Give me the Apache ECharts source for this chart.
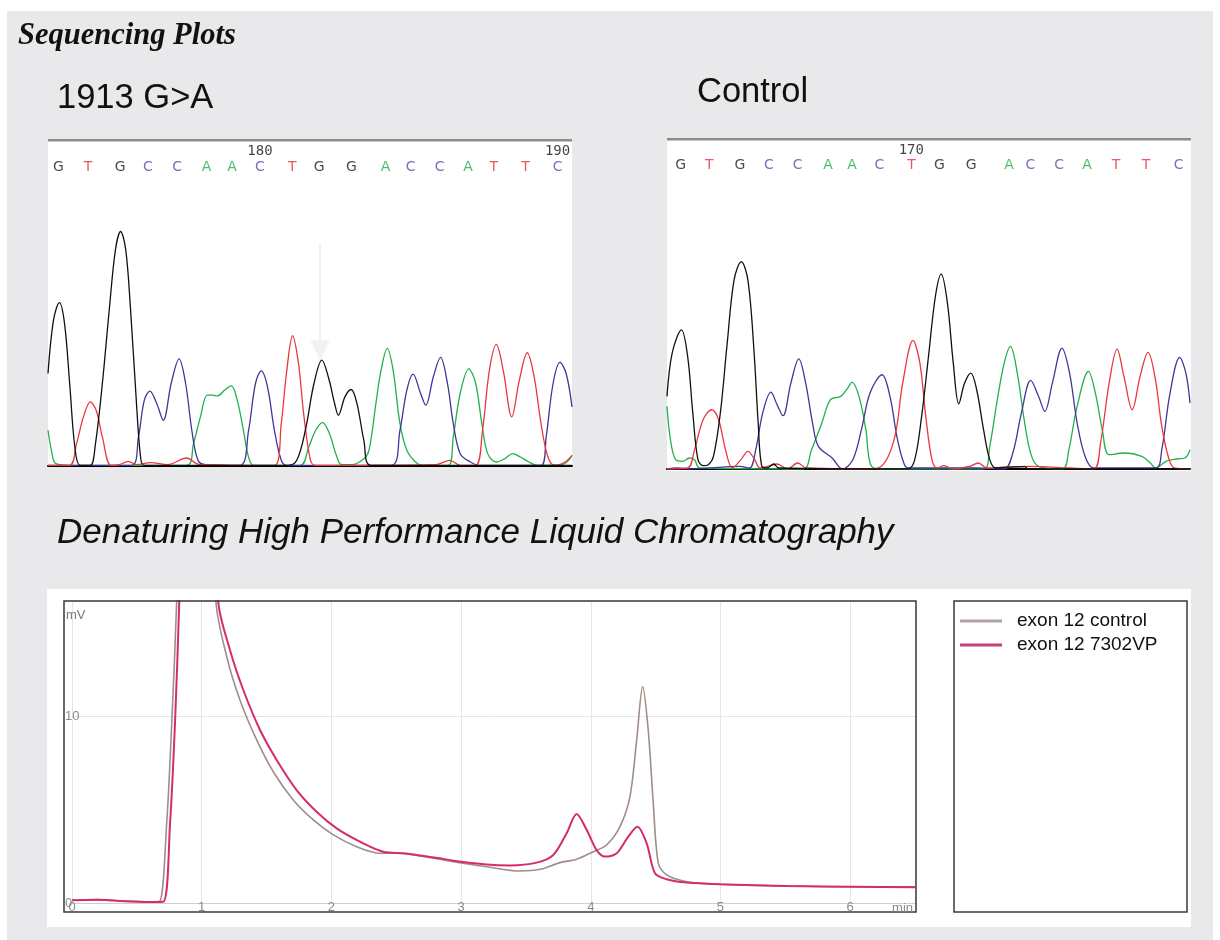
<!DOCTYPE html>
<html>
<head>
<meta charset="utf-8">
<script src="https://cdn.jsdelivr.net/npm/echarts@6/dist/echarts.min.js"></script>
<style>
html,body{margin:0;padding:0;background:#fff;}
#chart{width:1220px;height:940px;}
</style>
</head>
<body>
<div id="chart"></div>
<script>
// ---------------- DATA ----------------
// Sequencing trace, mutant (1913 G>A): [scan, signal]
const leftG = [[22,27.7],[38,43.7],[55,48.9],[70,42.7],[85,24.7],[100,5.7],[115,0.2],[145,0.2],[160,6.7],[180,24.7],[200,46.7],[218,64.7],[233,70.2],[248,64.7],[262,46.7],[278,20.7],[290,3.7],[300,0.2],[340,0.2],[720,0.2],[745,1.7],[770,10.7],[795,24.7],[818,31.7],[838,26.2],[855,18.7],[866,15.2],[885,20.7],[903,22.9],[920,18.7],[940,7.7],[960,0.2],[1545,0.2]];
const leftT = [[22,0.2],[85,0.2],[105,6.7],[125,14.7],[145,19.2],[162,16.7],[180,8.7],[205,0.2],[230,0.4],[255,1.4],[280,0.4],[320,1.0],[370,0.4],[425,2.4],[460,0.5],[680,0.2],[700,12.7],[715,27.7],[733,39.0],[750,30.7],[765,15.7],[785,1.7],[800,0.2],[1150,0.4],[1190,1.7],[1220,0.2],[1265,0.2],[1285,10.7],[1305,28.7],[1325,36.4],[1345,28.7],[1370,14.7],[1392,25.7],[1415,33.9],[1435,26.7],[1455,12.7],[1475,2.7],[1495,0.2],[1525,1.2],[1545,3.2]];
const leftC = [[22,0.2],[265,0.2],[285,8.7],[302,19.7],[318,22.4],[338,18.7],[357,13.7],[380,24.7],[403,32.1],[422,24.7],[440,10.7],[458,1.7],[480,0.4],[580,0.2],[605,10.7],[625,24.7],[642,28.5],[660,23.7],[680,10.7],[700,1.7],[715,0.2],[1020,0.2],[1045,10.7],[1065,22.7],[1083,27.5],[1105,21.7],[1120,18.2],[1142,26.7],[1163,32.5],[1183,24.7],[1200,12.7],[1220,3.7],[1250,1.2],[1275,0.2],[1455,0.2],[1470,8.7],[1490,24.7],[1510,31.0],[1528,27.7],[1545,17.7]];
const leftA = [[22,10.7],[32,4.7],[45,0.7],[90,0.2],[425,0.2],[445,6.7],[465,14.7],[485,21.2],[500,21.2],[515,21.0],[535,22.7],[555,24.0],[572,19.7],[590,10.7],[605,2.7],[620,0.2],[755,0.2],[780,5.7],[800,10.7],[820,13.0],[840,9.7],[860,3.2],[875,0.4],[905,0.4],[940,2.2],[955,4.7],[975,18.7],[990,28.7],[1008,35.2],[1025,28.7],[1045,12.7],[1065,4.7],[1090,1.2],[1110,0.2],[1185,0.2],[1200,8.7],[1220,21.7],[1245,29.1],[1265,24.7],[1283,12.7],[1300,3.7],[1325,1.2],[1350,2.2],[1372,3.7],[1395,2.7],[1420,1.2],[1445,0.2],[1515,0.4],[1535,1.7],[1545,3.2]];
const leftBases = ['G','T','G','C','C','A','A','C','T','G','G','A','C','C','A','T','T','C'];
const leftBasePos = [52,138,232,312,397,483,557,638,732,810,904,1003,1076,1160,1243,1318,1410,1503];
const leftRulerLabels = ['180','190'];
const leftRulerPos = [638,1503];
const leftArrow = [[813,66.7],[813,34.7]];

// Sequencing trace, control
const rightG = [[20,21.8],[35,34.8],[62,41.8],[80,33.8],[95,16.8],[110,2.8],[125,1.0],[140,1.3],[155,3.8],[175,16.8],[195,37.8],[215,56.8],[236,62.3],[255,56.8],[272,36.8],[285,13.8],[295,1.0],[310,0.3],[330,1.5],[345,0.3],[720,0],[740,2.8],[760,15.8],[780,33.8],[800,51.8],[817,58.5],[835,49.8],[852,31.8],[868,19.6],[885,25.8],[903,28.8],[920,23.8],[940,11.8],[958,2.8],[975,0.3],[1000,0.5],[1060,0.7],[1070,0],[1540,0]];
const rightT = [[20,0],[80,0.3],[100,5.8],[125,14.8],[150,17.8],[170,14.8],[190,5.8],[210,0.3],[235,2.8],[255,5.3],[275,2.8],[290,0.3],[320,1.0],[340,1.5],[370,0],[400,1.8],[425,0.3],[600,0],[640,0.6],[680,8.8],[705,25.8],[735,38.6],[755,31.8],[772,15.8],[790,2.8],[805,0.3],[825,1.0],[850,0],[900,0.8],[925,1.8],[950,0.3],[1070,0.8],[1190,0.3],[1260,0],[1280,7.8],[1305,25.8],[1328,36.0],[1348,27.8],[1372,17.8],[1395,27.8],[1418,35.0],[1438,27.8],[1458,12.8],[1478,3.3],[1495,0.3],[1540,0]];
const rightC = [[20,0],[50,0.3],[90,0],[230,0.8],[260,0.3],[278,5.8],[298,16.8],[322,23.1],[340,19.3],[357,16.0],[380,25.8],[403,33.1],[423,25.8],[443,13.8],[460,6.8],[500,3.3],[530,0],[560,2.8],[585,11.8],[610,22.8],[645,28.3],[668,21.8],[688,9.8],[705,2.8],[720,0.3],[860,0.3],[920,0.3],[1000,0],[1025,4.8],[1050,16.8],[1077,26.6],[1100,21.8],[1118,17.3],[1140,25.8],[1168,36.3],[1190,28.8],[1212,13.8],[1235,3.8],[1260,0.3],[1440,0.3],[1458,5.8],[1482,22.8],[1510,33.5],[1528,28.8],[1540,19.8]];
const rightA = [[20,18.8],[30,8.8],[45,2.8],[65,2.3],[85,3.3],[100,2.8],[115,0.3],[415,0],[440,5.8],[470,13.8],[495,20.8],[525,21.8],[545,24.3],[558,26.1],[578,21.8],[598,11.8],[612,1.3],[640,0],[940,0],[958,6.8],[980,20.8],[1000,31.8],[1018,36.8],[1038,28.8],[1058,14.8],[1078,4.3],[1100,0.8],[1170,0],[1188,5.8],[1212,18.8],[1245,29.3],[1265,22.8],[1285,11.8],[1305,4.3],[1350,4.8],[1400,3.8],[1425,1.8],[1440,0.3],[1470,2.3],[1500,3.0],[1525,3.3],[1540,5.8]];
const rightBases = ['G','T','G','C','C','A','A','C','T','G','G','A','C','C','A','T','T','C'];
const rightBasePos = [60,143,232,316,400,488,558,637,731,812,904,1014,1076,1160,1241,1325,1412,1507];
const rightRulerLabels = ['170'];
const rightRulerPos = [730];

// DHPLC: [time (min), signal (mV)]
const dhplcNames = ['exon 12 control','exon 12 7302VP'];
const exon12Control = [[0,0.15],[0.2,0.18],[0.4,0.1],[0.6,0.06],[0.673,0.07],[0.73,4.26],[0.769,9.61],[0.807,16.1],[0.86,30],[0.95,40],[1.04,30],[1.11,16.1],[1.193,13.17],[1.295,10.86],[1.424,8.72],[1.552,7.02],[1.706,5.51],[1.861,4.44],[2.015,3.64],[2.195,3.01],[2.375,2.66],[2.529,2.66],[2.632,2.57],[2.837,2.34],[2.94,2.21],[3.197,1.94],[3.454,1.71],[3.608,1.80],[3.763,2.16],[3.891,2.34],[4.019,2.74],[4.122,3.10],[4.225,4.08],[4.302,5.69],[4.354,8.72],[4.40,11.57],[4.443,9.25],[4.482,5.33],[4.521,2.12],[4.585,1.50],[4.74,1.14],[4.996,1.0],[5.51,0.91],[6.024,0.87],[6.5,0.87]];
const exon12VP = [[0,0.15],[0.2,0.18],[0.4,0.1],[0.6,0.06],[0.704,0.07],[0.756,4.26],[0.794,9.6],[0.827,16.1],[0.88,30],[0.97,40],[1.06,30],[1.128,16.1],[1.218,13.53],[1.321,11.39],[1.45,9.25],[1.578,7.65],[1.732,6.04],[1.886,4.88],[2.041,3.99],[2.22,3.28],[2.4,2.74],[2.554,2.66],[2.657,2.57],[2.837,2.39],[2.94,2.26],[3.197,2.06],[3.377,2.01],[3.583,2.16],[3.711,2.57],[3.814,3.73],[3.891,4.76],[3.969,3.90],[4.045,2.83],[4.11,2.48],[4.2,2.66],[4.289,3.55],[4.359,4.08],[4.431,3.19],[4.495,1.59],[4.585,1.27],[4.74,1.09],[4.996,1.0],[5.51,0.91],[6.024,0.87],[6.5,0.84]];
const dhplcXTicks = [0,1,2,3,4,5,6];
const dhplcYTicks = [0,10];

// ---------------- STYLE ----------------
const baseColor = {G:'#1a1a1a', T:'#e2323a', C:'#5a48b0', A:'#1fae45'};
const traceColor = {G:'#111111', T:'#e8383d', C:'#43349a', A:'#20b14a'};
const seriesColors = ['#a08e84','#d42c6c'];
const legendColors = ['#b0a2a2','#c63f7d'];

const chart = echarts.init(document.getElementById('chart'), null, {renderer:'canvas'});

function trace(data, base, gi) {
  return {type:'line', data, xAxisIndex:gi, yAxisIndex:gi, smooth:0.35, symbol:'none',
    lineStyle:{color:traceColor[base], width:1.3}, itemStyle:{color:traceColor[base]}, silent:true, z:3};
}
function baseRow(bases, pos, y, gi) {
  return {type:'scatter', xAxisIndex:gi, yAxisIndex:gi, symbolSize:1, itemStyle:{color:'rgba(0,0,0,0)'}, silent:true, z:4,
    data: bases.map((b,i)=>({value:[pos[i], y], name:b, label:{color:baseColor[b]}})),
    label:{show:true, position:'inside', formatter:'{b}', fontFamily:'DejaVu Sans', fontSize:14}};
}
function rulerRow(labels, pos, y, gi) {
  return {type:'scatter', xAxisIndex:gi, yAxisIndex:gi, symbolSize:1, itemStyle:{color:'rgba(0,0,0,0)'}, silent:true, z:4,
    data: labels.map((l,i)=>({value:[pos[i], y], name:l})),
    label:{show:true, position:'inside', formatter:'{b}', fontFamily:'DejaVu Sans Mono', fontSize:14, color:'#111'}};
}

const leftArrowSeries = {type:'line', xAxisIndex:0, yAxisIndex:0, data:[], symbol:'none', silent:true, z:2,
  markLine:{silent:true, symbol:['none','triangle'], symbolSize:20, label:{show:false},
    lineStyle:{color:'#f1f1f1', width:2, type:'solid'},
    emphasis:{disabled:true},
    data:[[{coord:leftArrow[0]},{coord:leftArrow[1]}]]}};

const hidden = {show:false};
function seqAxisX(gi, min, max) {
  return {type:'value', gridIndex:gi, min, max, axisLine:{show:true, onZero:false, lineStyle:{color:'#000', width:2}},
    axisTick:hidden, axisLabel:hidden, splitLine:hidden};
}
function seqAxisY(gi, max) {
  return {type:'value', gridIndex:gi, min:0, max, show:false, splitLine:hidden};
}

const option = {
  animation:false,
  backgroundColor:'#ffffff',
  graphic:{elements:[
    {type:'rect', z:-100, shape:{x:7,y:11,width:1206,height:929}, style:{fill:'#e9e8ea'}},
    {type:'rect', z:-90, shape:{x:48,y:139,width:524,height:328}, style:{fill:'#ffffff'}},
    {type:'rect', z:-80, shape:{x:48,y:139,width:524,height:2.5}, style:{fill:'#8c8c8c'}},
    {type:'rect', z:-90, shape:{x:667,y:138,width:524,height:333}, style:{fill:'#ffffff'}},
    {type:'rect', z:-80, shape:{x:667,y:138,width:524,height:2.5}, style:{fill:'#8c8c8c'}},
    {type:'rect', z:-90, shape:{x:47,y:589,width:1144,height:338}, style:{fill:'#ffffff'}},
    {type:'rect', z:50, shape:{x:64,y:601,width:852,height:311}, style:{fill:null, stroke:'#3a3a3a', lineWidth:1.5}},
    {type:'rect', z:50, shape:{x:954,y:601,width:233,height:311}, style:{fill:null, stroke:'#3a3a3a', lineWidth:1.5}},
    {type:'text', z:60, x:18, y:36, style:{text:'Sequencing Plots', font:'italic bold 30.5px "Liberation Serif"', fill:'#111', verticalAlign:'middle'}},
    {type:'text', z:60, x:57, y:98, style:{text:'1913 G>A', font:'34.5px "Liberation Sans"', fill:'#111', verticalAlign:'middle'}},
    {type:'text', z:60, x:697, y:92, style:{text:'Control', font:'34.5px "Liberation Sans"', fill:'#111', verticalAlign:'middle'}},
    {type:'text', z:60, x:57, y:533, style:{text:'Denaturing High Performance Liquid Chromatography', font:'italic 35px "Liberation Sans"', fill:'#111', verticalAlign:'middle'}},
    {type:'text', z:60, x:66, y:615, style:{text:'mV', font:'13px "Liberation Sans"', fill:'#7a7a7a', verticalAlign:'middle'}},
    {type:'text', z:60, x:913, y:908, style:{text:'min', font:'13px "Liberation Sans"', fill:'#8a8a8a', verticalAlign:'middle', align:'right'}}
  ]},
  grid:[
    {left:48, top:142, width:524, height:324},
    {left:667, top:140, width:523, height:329},
    {left:72, top:601, width:843, height:302}
  ],
  xAxis:[
    seqAxisX(0, 22, 1545),
    seqAxisX(1, 20, 1540),
    {type:'value', gridIndex:2, min:dhplcXTicks[0], max:6.5, interval:1,
      axisLine:{show:true, onZero:false, lineStyle:{color:'#cfcfcf', width:1}}, axisTick:hidden,
      axisLabel:{show:true, margin:-2, color:'#8a8a8a', fontSize:13, fontFamily:'Liberation Sans', showMaxLabel:false},
      splitLine:{show:true, lineStyle:{color:'#e6e6e6', width:1}}}
  ],
  yAxis:[
    seqAxisY(0, 97),
    seqAxisY(1, 98.8),
    {type:'value', gridIndex:2, min:dhplcYTicks[0], max:16.15, interval:10,
      axisLine:hidden, axisTick:hidden,
      axisLabel:{show:true, margin:7, align:'left', color:'#8a8a8a', fontSize:13, fontFamily:'Liberation Sans', showMaxLabel:false},
      splitLine:{show:true, lineStyle:{color:'#e6e6e6', width:1}}}
  ],
  legend:{show:true, orient:'vertical', left:960, top:610, padding:0, itemWidth:42, itemHeight:3, itemGap:2, icon:'rect',
    selectedMode:false,
    textStyle:{fontFamily:'"Liberation Sans Narrow","Liberation Sans"', fontSize:19, lineHeight:22, color:'#111', padding:[0,0,0,10]},
    data:[{name:dhplcNames[0], itemStyle:{color:legendColors[0]}},{name:dhplcNames[1], itemStyle:{color:legendColors[1]}}]},
  series:[
    leftArrowSeries,
    trace(leftA,'A',0), trace(leftC,'C',0), trace(leftT,'T',0), trace(leftG,'G',0),
    baseRow(leftBases, leftBasePos, 89.5, 0),
    rulerRow(leftRulerLabels, leftRulerPos, 94.2, 0),
    trace(rightA,'A',1), trace(rightC,'C',1), trace(rightT,'T',1), trace(rightG,'G',1),
    baseRow(rightBases, rightBasePos, 91.1, 1),
    rulerRow(rightRulerLabels, rightRulerPos, 95.7, 1),
    {type:'line', name:dhplcNames[0], xAxisIndex:2, yAxisIndex:2, data:exon12Control, smooth:0.3, symbol:'none',
      lineStyle:{color:seriesColors[0], width:1.6}, itemStyle:{color:seriesColors[0]}, silent:true, z:5},
    {type:'line', name:dhplcNames[1], xAxisIndex:2, yAxisIndex:2, data:exon12VP, smooth:0.3, symbol:'none',
      lineStyle:{color:seriesColors[1], width:2}, itemStyle:{color:seriesColors[1]}, silent:true, z:6}
  ]
};
chart.setOption(option);
</script>
</body>
</html>
